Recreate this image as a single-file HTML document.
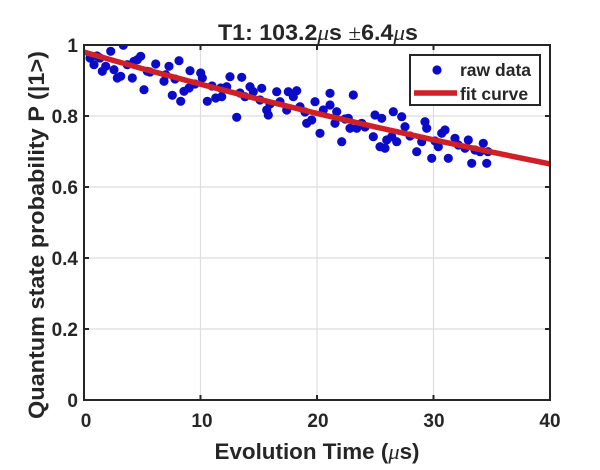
<!DOCTYPE html>
<html>
<head>
<meta charset="utf-8">
<style>
html,body{margin:0;padding:0;background:#fff;}
svg{display:block;}
text{font-family:"Liberation Sans",Arial,sans-serif;font-weight:bold;fill:#262626;}
</style>
</head>
<body>
<svg width="600" height="470" viewBox="0 0 600 470" xmlns="http://www.w3.org/2000/svg">
<defs>
<clipPath id="pa"><rect x="84" y="45" width="466" height="355"/></clipPath>
</defs>
<rect x="0" y="0" width="600" height="470" fill="#fff"/>
<!-- grid -->
<g stroke="#dedede" stroke-width="1.2">
<line x1="200.5" y1="45" x2="200.5" y2="400"/>
<line x1="317" y1="45" x2="317" y2="400"/>
<line x1="433.5" y1="45" x2="433.5" y2="400"/>
<line x1="84" y1="116" x2="550" y2="116"/>
<line x1="84" y1="187" x2="550" y2="187"/>
<line x1="84" y1="258" x2="550" y2="258"/>
<line x1="84" y1="329" x2="550" y2="329"/>
</g>
<!-- data -->
<g fill="#0a0ac8" clip-path="url(#pa)">
<circle cx="94" cy="64.7" r="4.6"/><circle cx="110.7" cy="51.3" r="4.6"/><circle cx="123.3" cy="45.3" r="4.6"/>
<circle cx="102.3" cy="71.3" r="4.6"/><circle cx="105.7" cy="66.3" r="4.6"/><circle cx="114" cy="69.7" r="4.6"/>
<circle cx="117.3" cy="78" r="4.6"/><circle cx="120.7" cy="76.3" r="4.6"/><circle cx="132.3" cy="78" r="4.6"/>
<circle cx="127.3" cy="64.7" r="4.6"/><circle cx="137.3" cy="59.7" r="4.6"/><circle cx="140.7" cy="56.3" r="4.6"/>
<circle cx="134" cy="61.3" r="4.6"/><circle cx="144" cy="89.7" r="4.6"/><circle cx="147.3" cy="71.3" r="4.6"/>
<circle cx="155.7" cy="64" r="4.6"/><circle cx="164" cy="81.3" r="4.6"/><circle cx="169" cy="66.3" r="4.6"/>
<circle cx="165.7" cy="74.7" r="4.6"/><circle cx="179" cy="60.7" r="4.6"/><circle cx="172.3" cy="95.3" r="4.6"/>
<circle cx="180.7" cy="101.3" r="4.6"/><circle cx="184" cy="91.3" r="4.6"/><circle cx="190" cy="70.7" r="4.6"/>
<circle cx="189" cy="88" r="4.6"/><circle cx="200.7" cy="73" r="4.6"/><circle cx="202.3" cy="78" r="4.6"/>
<circle cx="207.3" cy="101.3" r="4.6"/><circle cx="215.7" cy="98" r="4.6"/><circle cx="220.7" cy="88" r="4.6"/>
<circle cx="90" cy="58" r="4.6"/><circle cx="97" cy="56" r="4.6"/>
<circle cx="230" cy="76.7" r="4.6"/><circle cx="241.7" cy="77.3" r="4.6"/><circle cx="226.7" cy="86.7" r="4.6"/>
<circle cx="221.7" cy="96.7" r="4.6"/><circle cx="250" cy="86.7" r="4.6"/><circle cx="253.3" cy="91.7" r="4.6"/>
<circle cx="261.7" cy="88.3" r="4.6"/><circle cx="245" cy="96.7" r="4.6"/><circle cx="236.7" cy="117.3" r="4.6"/>
<circle cx="260" cy="100" r="4.6"/><circle cx="276.7" cy="91.7" r="4.6"/><circle cx="266.7" cy="110" r="4.6"/>
<circle cx="268.3" cy="115" r="4.6"/><circle cx="280" cy="101.7" r="4.6"/><circle cx="288.3" cy="91.7" r="4.6"/>
<circle cx="296.7" cy="90.7" r="4.6"/><circle cx="293.3" cy="96.7" r="4.6"/><circle cx="286.7" cy="110" r="4.6"/>
<circle cx="300" cy="106.7" r="4.6"/><circle cx="315" cy="101.7" r="4.6"/><circle cx="330" cy="93.3" r="4.6"/>
<circle cx="306.7" cy="123.3" r="4.6"/><circle cx="311.7" cy="120" r="4.6"/><circle cx="320" cy="133.3" r="4.6"/>
<circle cx="330" cy="105" r="4.6"/><circle cx="323.3" cy="110" r="4.6"/><circle cx="336.7" cy="111.7" r="4.6"/>
<circle cx="335" cy="123.3" r="4.6"/><circle cx="341.7" cy="141.7" r="4.6"/><circle cx="353.3" cy="95" r="4.6"/>
<circle cx="348.3" cy="118.3" r="4.6"/><circle cx="350" cy="128.3" r="4.6"/><circle cx="356.7" cy="128.3" r="4.6"/>
<circle cx="361.7" cy="123.3" r="4.6"/><circle cx="375" cy="115" r="4.6"/><circle cx="381.7" cy="118.3" r="4.6"/>
<circle cx="393.3" cy="111.7" r="4.6"/><circle cx="401.7" cy="116.7" r="4.6"/><circle cx="405" cy="126.7" r="4.6"/>
<circle cx="373.3" cy="136.7" r="4.6"/><circle cx="380" cy="146.7" r="4.6"/><circle cx="385" cy="148.3" r="4.6"/>
<circle cx="386.7" cy="140" r="4.6"/><circle cx="391.7" cy="136.7" r="4.6"/><circle cx="396.7" cy="141.7" r="4.6"/>
<circle cx="425" cy="121.7" r="4.6"/><circle cx="426.7" cy="128.3" r="4.6"/><circle cx="421.7" cy="141.7" r="4.6"/>
<circle cx="416.7" cy="151.7" r="4.6"/><circle cx="431.7" cy="158.3" r="4.6"/><circle cx="438.3" cy="146.7" r="4.6"/>
<circle cx="441.7" cy="133.3" r="4.6"/><circle cx="445" cy="130" r="4.6"/><circle cx="448.3" cy="158.3" r="4.6"/>
<circle cx="455" cy="138.3" r="4.6"/><circle cx="458.3" cy="145" r="4.6"/><circle cx="468.3" cy="140" r="4.6"/>
<circle cx="465" cy="148.3" r="4.6"/><circle cx="471.7" cy="163.3" r="4.6"/><circle cx="483.3" cy="143.3" r="4.6"/>
<circle cx="480" cy="151.7" r="4.6"/><circle cx="486.7" cy="163.3" r="4.6"/><circle cx="488" cy="151.7" r="4.6"/>
<circle cx="100" cy="58" r="4.6"/><circle cx="150" cy="72" r="4.6"/><circle cx="175" cy="79" r="4.6"/>
<circle cx="195" cy="84" r="4.6"/><circle cx="212" cy="86" r="4.6"/><circle cx="240" cy="93" r="4.6"/>
<circle cx="270" cy="104" r="4.6"/><circle cx="305" cy="112" r="4.6"/><circle cx="345" cy="119" r="4.6"/>
<circle cx="365" cy="127" r="4.6"/><circle cx="410" cy="136" r="4.6"/><circle cx="435" cy="141" r="4.6"/>
<circle cx="475" cy="150" r="4.6"/>
</g>
<!-- fit curve -->
<polyline clip-path="url(#pa)" fill="none" stroke="#cf1f27" stroke-width="5.5"
points="84,52.1 142.25,68.6 200.5,84.2 258.75,99.2 317,113.4 375.25,126.9 433.5,139.8 491.75,152.1 550,163.9"/>
<!-- axes box -->
<rect x="84" y="45" width="466" height="355" fill="none" stroke="#262626" stroke-width="2"/>
<g stroke="#262626" stroke-width="2">
<line x1="200.5" y1="400" x2="200.5" y2="395"/><line x1="317" y1="400" x2="317" y2="395"/><line x1="433.5" y1="400" x2="433.5" y2="395"/>
<line x1="200.5" y1="45" x2="200.5" y2="50"/><line x1="317" y1="45" x2="317" y2="50"/><line x1="433.5" y1="45" x2="433.5" y2="50"/>
<line x1="84" y1="116" x2="89" y2="116"/><line x1="84" y1="187" x2="89" y2="187"/><line x1="84" y1="258" x2="89" y2="258"/><line x1="84" y1="329" x2="89" y2="329"/>
<line x1="550" y1="116" x2="545" y2="116"/><line x1="550" y1="187" x2="545" y2="187"/><line x1="550" y1="258" x2="545" y2="258"/><line x1="550" y1="329" x2="545" y2="329"/>
</g>
<!-- tick labels -->
<g font-size="19" text-anchor="middle">
<text x="86" y="427">0</text>
<text x="202" y="427">10</text>
<text x="318" y="427">20</text>
<text x="434" y="427">30</text>
<text x="550" y="427">40</text>
</g>
<g font-size="19" text-anchor="end">
<text x="78" y="52">1</text>
<text x="78" y="123">0.8</text>
<text x="78" y="194">0.6</text>
<text x="78" y="265">0.4</text>
<text x="78" y="336">0.2</text>
<text x="78" y="407">0</text>
</g>
<!-- axis labels -->
<text x="317" y="459" font-size="22" text-anchor="middle" textLength="205" lengthAdjust="spacingAndGlyphs">Evolution Time (<tspan font-family="Liberation Serif" font-style="italic" font-weight="normal">μ</tspan>s)</text>
<text transform="translate(44,235) rotate(-90)" font-size="22" text-anchor="middle" textLength="368" lengthAdjust="spacingAndGlyphs">Quantum state probability P (|1&gt;)</text>
<!-- title -->
<text x="318" y="40" font-size="22" text-anchor="middle" textLength="200" lengthAdjust="spacingAndGlyphs">T1: 103.2<tspan font-family="Liberation Serif" font-style="italic" font-weight="normal">μ</tspan>s <tspan font-family="Liberation Serif" font-weight="normal">±</tspan>6.4<tspan font-family="Liberation Serif" font-style="italic" font-weight="normal">μ</tspan>s</text>
<!-- legend -->
<rect x="410" y="55" width="130" height="50" fill="#fff" stroke="#262626" stroke-width="2"/>
<circle cx="437" cy="70" r="4.6" fill="#0a0ac8"/>
<line x1="414" y1="93" x2="457" y2="93" stroke="#cf1f27" stroke-width="5.5"/>
<text x="460" y="76" font-size="17.5">raw data</text>
<text x="460" y="100" font-size="17.5">fit curve</text>
</svg>
</body>
</html>
